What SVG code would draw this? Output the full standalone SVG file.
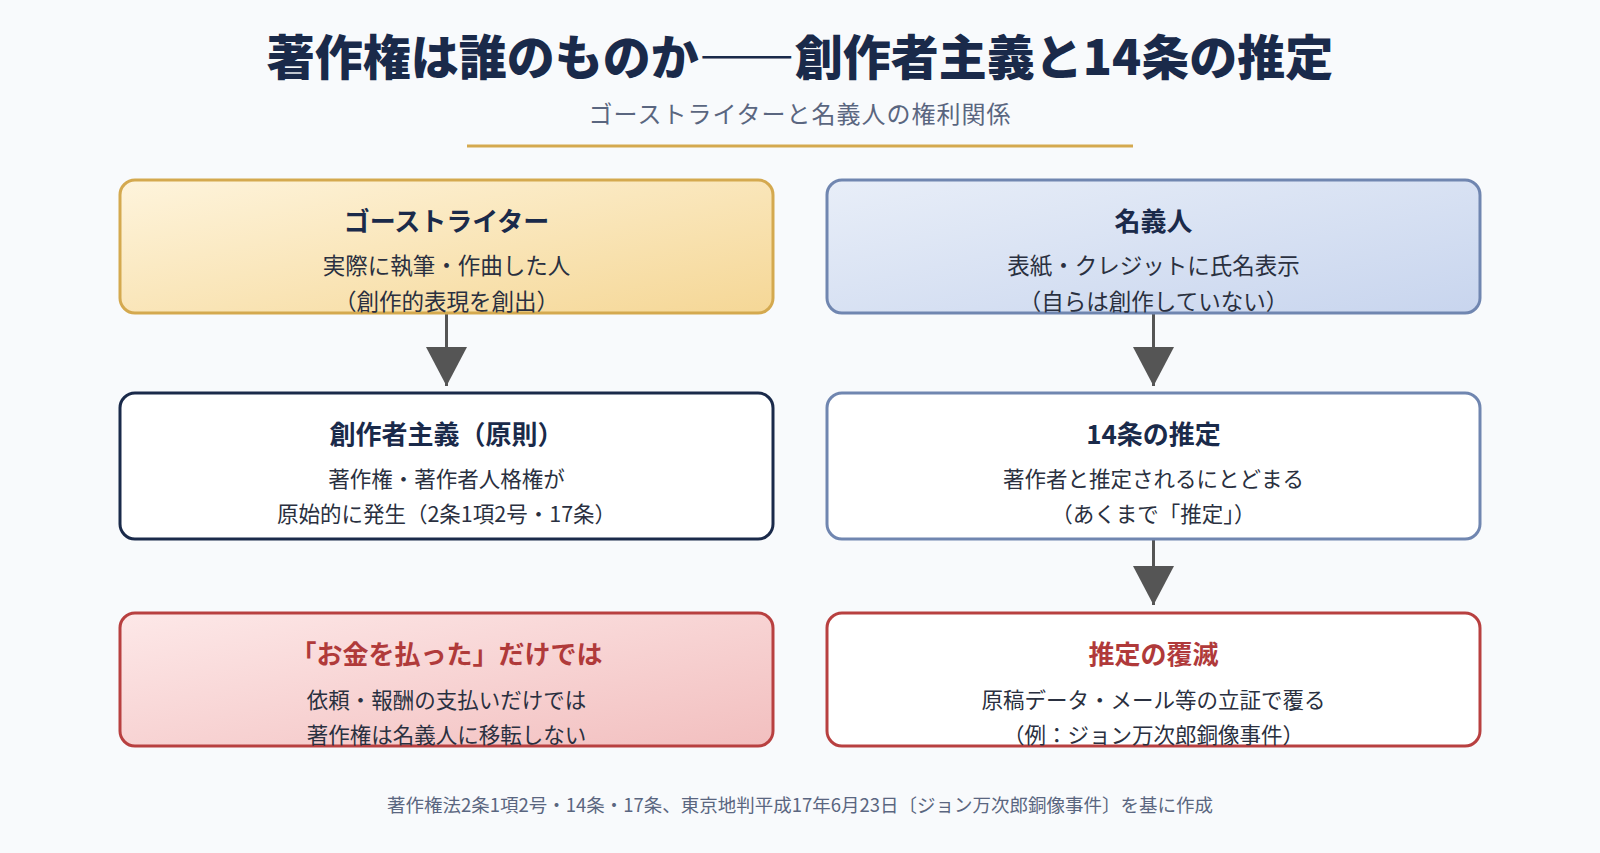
<svg xmlns="http://www.w3.org/2000/svg" width="1600" height="853" viewBox="0 0 1600 853">
<defs>
<linearGradient id="gGold" x1="0" y1="0" x2="1" y2="1"><stop offset="0" stop-color="#fef4dc"/><stop offset="1" stop-color="#f5d796"/></linearGradient>
<linearGradient id="gBlue" x1="0" y1="0" x2="1" y2="1"><stop offset="0" stop-color="#e8eef8"/><stop offset="1" stop-color="#c8d5ee"/></linearGradient>
<linearGradient id="gRed" x1="0" y1="0" x2="1" y2="1"><stop offset="0" stop-color="#fde8e8"/><stop offset="1" stop-color="#f2bfbf"/></linearGradient>
<marker id="arr" viewBox="0 0 39 41" refX="39" refY="20.5" markerWidth="39" markerHeight="41" markerUnits="userSpaceOnUse" orient="auto">
<path d="M0,0 L39,20.5 L0,41 Z" fill="#555555"/>
</marker>
</defs>
<style>
text{font-family:"Noto Sans CJK JP","Noto Sans",sans-serif;text-anchor:middle}
.title{font-size:48px;font-weight:900;fill:#1a2a4a}
.sub{font-size:24px;fill:#5a6680;letter-spacing:1px}
.h{font-size:26px;font-weight:700;fill:#1a2a4a}
.hr{font-size:26px;font-weight:700;fill:#b03a3a}
.t{font-size:22.5px;fill:#2a3040}
.t2{font-size:21.5px;fill:#2a3040}
.foot{font-size:18.5px;fill:#5a6680}
.box{stroke-width:3}
.conn{stroke:#555555;stroke-width:3;fill:none}
</style>
<rect width="1600" height="853" fill="#f8fafc"/>
<text class="title" x="800" y="75">著作権は誰のものか――創作者主義と14条の推定</text>
<text class="sub" x="800" y="123">ゴーストライターと名義人の権利関係</text>
<line x1="467" y1="146" x2="1133" y2="146" stroke="#d4a94f" stroke-width="3"/>

<g id="connectors">
<line class="conn" x1="446.5" y1="314" x2="446.5" y2="386" marker-end="url(#arr)"/>
<line class="conn" x1="1153.5" y1="314" x2="1153.5" y2="386" marker-end="url(#arr)"/>
<line class="conn" x1="1153.5" y1="540" x2="1153.5" y2="605" marker-end="url(#arr)"/>
</g>

<g id="ghostwriter">
<rect class="box" x="120" y="180" width="653" height="133" rx="15" fill="url(#gGold)" stroke="#d4a94f"/>
<text class="h" x="446.5" y="231">ゴーストライター</text>
<text class="t" x="446.5" y="274">実際に執筆・作曲した人</text>
<text class="t" x="446.5" y="310">（創作的表現を創出）</text>
</g>
<g id="nominee">
<rect class="box" x="827" y="180" width="653" height="133" rx="15" fill="url(#gBlue)" stroke="#7086b0"/>
<text class="h" x="1153.5" y="231">名義人</text>
<text class="t" x="1153.5" y="274">表紙・クレジットに氏名表示</text>
<text class="t" x="1153.5" y="310">（自らは創作していない）</text>
</g>
<g id="principle">
<rect class="box" x="120" y="393" width="653" height="146" rx="15" fill="#ffffff" stroke="#1a2a4a"/>
<text class="h" x="446.5" y="444">創作者主義（原則）</text>
<text class="t2" x="446.5" y="487">著作権・著作者人格権が</text>
<text class="t2" x="446.5" y="522">原始的に発生（2条1項2号・17条）</text>
</g>
<g id="presumption">
<rect class="box" x="827" y="393" width="653" height="146" rx="15" fill="#ffffff" stroke="#7086b0"/>
<text class="h" x="1153.5" y="444">14条の推定</text>
<text class="t2" x="1153.5" y="487">著作者と推定されるにとどまる</text>
<text class="t2" x="1153.5" y="522">（あくまで「推定」）</text>
</g>
<g id="payment">
<rect class="box" x="120" y="613" width="653" height="133" rx="15" fill="url(#gRed)" stroke="#b84040"/>
<text class="hr" x="446.5" y="664">「お金を払った」だけでは</text>
<text class="t2" x="446.5" y="708">依頼・報酬の支払いだけでは</text>
<text class="t2" x="446.5" y="743">著作権は名義人に移転しない</text>
</g>
<g id="rebuttal">
<rect class="box" x="827" y="613" width="653" height="133" rx="15" fill="#ffffff" stroke="#b84040"/>
<text class="hr" x="1153.5" y="664">推定の覆滅</text>
<text class="t2" x="1153.5" y="708">原稿データ・メール等の立証で覆る</text>
<text class="t2" x="1153.5" y="743">（例：ジョン万次郎銅像事件）</text>
</g>
<text class="foot" x="800" y="812">著作権法2条1項2号・14条・17条、東京地判平成17年6月23日〔ジョン万次郎銅像事件〕を基に作成</text>
</svg>
